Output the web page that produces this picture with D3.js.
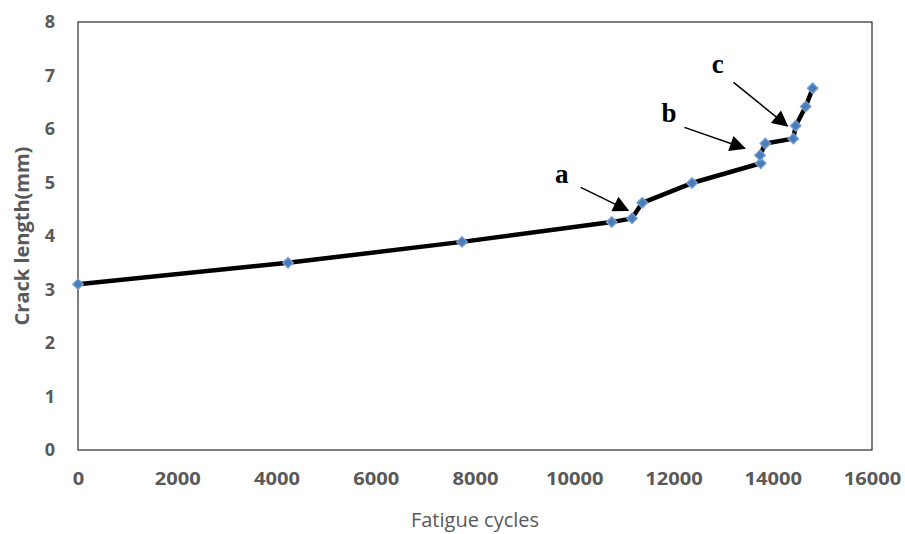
<!DOCTYPE html>
<html>
  <head>
    <style>
      html,
      body {
        margin: 0;
        padding: 0;
        background: #fff;
      }
    </style>
  </head>
  <body>
    <div id="chart"></div>
    <script src="https://d3js.org/d3.v7.min.js"></script>
    <script>
      // fatigue cycles vs crack length (mm)
      const cycles = [0, 4232, 7738, 10755, 11164, 11371, 12373, 13757, 13743, 13850, 14414, 14463, 14664, 14805];
      const crackLength = [3.1, 3.5, 3.89, 4.26, 4.33, 4.62, 4.99, 5.36, 5.51, 5.73, 5.82, 6.06, 6.42, 6.76];
      const xTicks = [0, 2000, 4000, 6000, 8000, 10000, 12000, 14000, 16000];
      const yTicks = [0, 1, 2, 3, 4, 5, 6, 7, 8];
      // annotation letters: label position, arrow start, arrow tip (data units)
      const noteLabels = ["a", "b", "c"];
      const noteText = [[9750, 5.0], [11910, 6.14], [12890, 7.04]];
      const noteFrom = [[10130, 4.91], [12220, 6.03], [13210, 6.87]];
      const noteTo = [[11080, 4.48], [13430, 5.64], [14290, 6.06]];

      const width = 905;
      const height = 534;
      const margin = { top: 22, right: 33, bottom: 84, left: 78 };

      const svg = d3
        .select("#chart")
        .append("svg")
        .attr("width", width)
        .attr("height", height);

      const x = d3
        .scaleLinear()
        .domain([0, 16000])
        .range([margin.left, width - margin.right]);
      const y = d3
        .scaleLinear()
        .domain([0, 8])
        .range([height - margin.bottom, margin.top]);

      svg
        .append("defs")
        .append("marker")
        .attr("id", "arrow")
        .attr("viewBox", "0 0 10 10")
        .attr("refX", 9)
        .attr("refY", 5)
        .attr("markerWidth", 21)
        .attr("markerHeight", 16)
        .attr("markerUnits", "userSpaceOnUse")
        .attr("orient", "auto")
        .append("path")
        .attr("d", "M0,0 L10,5 L0,10 Z")
        .attr("fill", "#000");

      // plot frame
      svg
        .append("rect")
        .attr("x", x(0))
        .attr("y", y(8))
        .attr("width", x(16000) - x(0))
        .attr("height", y(0) - y(8))
        .attr("fill", "none")
        .attr("stroke", "#000")
        .attr("stroke-width", 1);

      const tickFont = "'Open Sans', sans-serif";

      const xAxis = svg
        .append("g")
        .attr("transform", `translate(0,${y(0)})`)
        .call(d3.axisBottom(x).tickValues(xTicks).tickSize(0).tickPadding(22).tickFormat(d3.format("d")));
      const yAxis = svg
        .append("g")
        .attr("transform", `translate(${x(0)},0)`)
        .call(d3.axisLeft(y).tickValues(yTicks).tickSize(0).tickPadding(23));
      [xAxis, yAxis].forEach((a) => {
        a.select(".domain").remove();
        a.selectAll("text")
          .attr("fill", "#595959")
          .style("font-family", tickFont)
          .style("font-weight", "bold")
          .style("font-size", "18px");
      });
      xAxis.selectAll("text").attr("textLength", (d) => String(d).length * 11.5).attr("lengthAdjust", "spacingAndGlyphs");

      svg
        .append("text")
        .attr("x", (x(0) + x(16000)) / 2)
        .attr("y", 527)
        .attr("text-anchor", "middle")
        .attr("fill", "#595959")
        .style("font-family", tickFont)
        .style("font-size", "20px")
        .text("Fatigue cycles");

      svg
        .append("text")
        .attr("transform", `translate(29,${(y(0) + y(8)) / 2}) rotate(-90)`)
        .attr("text-anchor", "middle")
        .attr("fill", "#595959")
        .style("font-family", tickFont)
        .style("font-weight", "bold")
        .style("font-size", "20px")
        .text("Crack length(mm)");

      const points = cycles.map((c, i) => [c, crackLength[i]]);

      const line = d3
        .line()
        .x((d) => x(d[0]))
        .y((d) => y(d[1]));

      svg
        .append("path")
        .datum(points)
        .attr("d", line)
        .attr("fill", "none")
        .attr("stroke", "#000")
        .attr("stroke-width", 4.5)
        .attr("stroke-linejoin", "round");

      svg
        .append("g")
        .selectAll("path")
        .data(points)
        .join("path")
        .attr("transform", (d) => `translate(${x(d[0])},${y(d[1])}) rotate(45)`)
        .attr("d", "M-3.8,-3.8 h7.6 v7.6 h-7.6 Z")
        .attr("fill", "#4a7ebb")
        .attr("stroke", "#7ea3d4")
        .attr("stroke-width", 1.2);

      // annotations
      const notes = svg.append("g");
      noteLabels.forEach((label, i) => {
        notes
          .append("line")
          .attr("x1", x(noteFrom[i][0]))
          .attr("y1", y(noteFrom[i][1]))
          .attr("x2", x(noteTo[i][0]))
          .attr("y2", y(noteTo[i][1]))
          .attr("stroke", "#000")
          .attr("stroke-width", 1.5)
          .attr("marker-end", "url(#arrow)");
        notes
          .append("text")
          .attr("x", x(noteText[i][0]))
          .attr("y", y(noteText[i][1]))
          .attr("text-anchor", "middle")
          .attr("fill", "#000")
          .style("font-family", "'Liberation Serif', serif")
          .style("font-weight", "bold")
          .style("font-size", "27px")
          .text(label);
      });
    </script>
  </body>
</html>
